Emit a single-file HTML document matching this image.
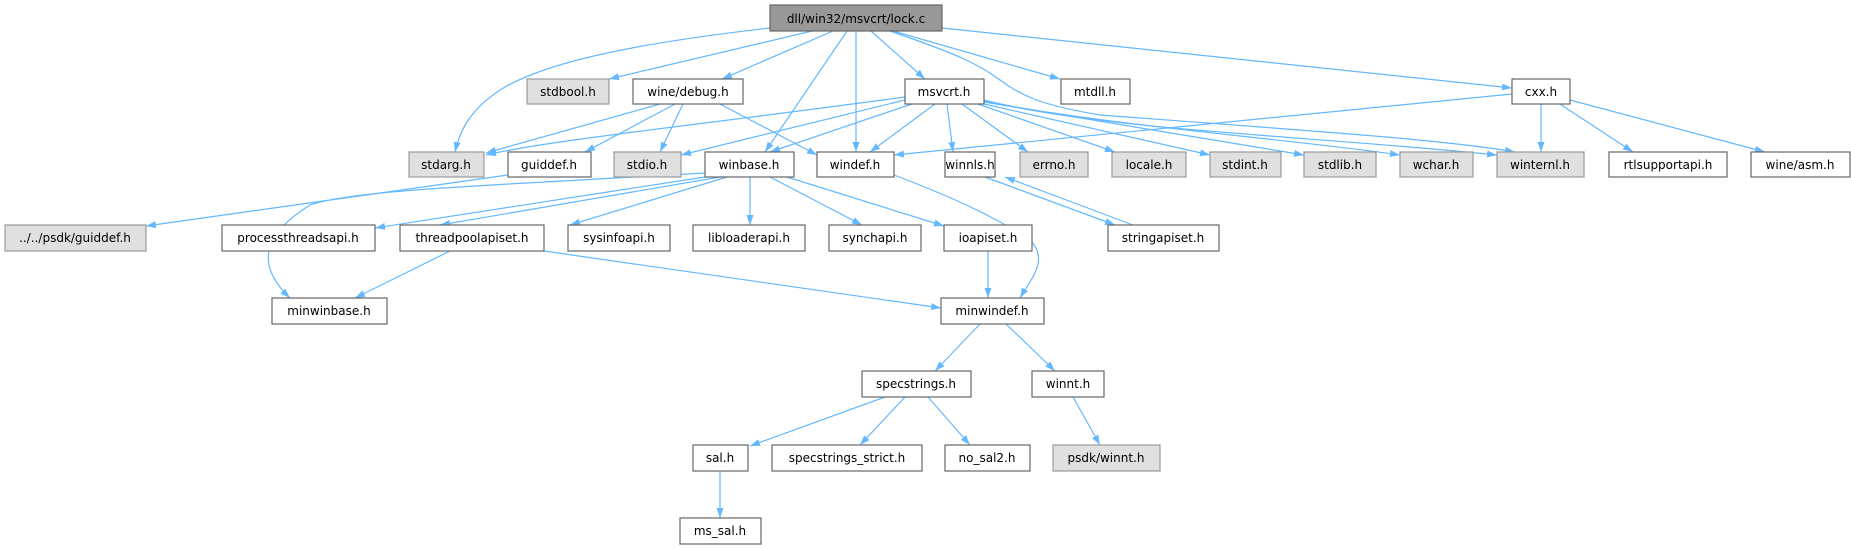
<!DOCTYPE html>
<html><head><meta charset="utf-8"><style>
html,body{margin:0;padding:0;background:#fff;}
svg{display:block;}
text{font-family:"DejaVu Sans","Liberation Sans",sans-serif;font-size:12px;fill:#000;}
</style></head><body>
<svg width="1851" height="549" viewBox="0 0 1851 549" xmlns="http://www.w3.org/2000/svg">
<defs><marker id="a" viewBox="0 0 10 10" refX="10" refY="5" markerWidth="10" markerHeight="10" markerUnits="userSpaceOnUse" orient="auto"><path d="M0,1.5 L10,5 L0,8.5 z" fill="#63b8ff"/></marker></defs>
<g fill="none" stroke="#63b8ff" stroke-width="1.2" marker-end="url(#a)">
<!-- lock.c -->
<path d="M770,28 C620,45 540,65 500,90 C470,110 460,130 455,152"/>
<path d="M812,31 L609,79"/>
<path d="M833,31 L722,79"/>
<path d="M847,31 L765,152"/>
<path d="M856,31 L856,152"/>
<path d="M871,31 L925,79"/>
<path d="M893,31 L1060,79"/>
<path d="M942,28 L1512,88"/>
<path d="M890,31 C960,55 980,65 1000,80 C1020,95 1040,105 1100,115 C1300,130 1450,140 1515,152"/>
<!-- wine/debug -->
<path d="M660,104 L486,153"/>
<path d="M675,104 L585,152"/>
<path d="M683,104 L660,152"/>
<path d="M720,104 L817,155"/>
<!-- msvcrt -->
<path d="M905,97 C700,125 550,140 486,155"/>
<path d="M905,100 L681,155"/>
<path d="M912,104 L770,152"/>
<path d="M935,104 L870,152"/>
<path d="M947,104 L953,152"/>
<path d="M962,104 L1028,152"/>
<path d="M978,104 L1115,152"/>
<path d="M984,104 L1210,155"/>
<path d="M984,102 L1304,155"/>
<path d="M984,101 C1100,125 1300,140 1400,155"/>
<path d="M984,100 C1100,130 1300,135 1497,155"/>
<!-- cxx -->
<path d="M1512,94 L894,155"/>
<path d="M1541,104 L1541,152"/>
<path d="M1560,104 L1633,152"/>
<path d="M1570,100 L1765,152"/>
<!-- guiddef -->
<path d="M508,175 L146,226"/>
<!-- winbase -->
<path d="M705,173 C500,185 350,190 310,205 C270,230 250,260 290,298"/>
<path d="M705,177 L375,228"/>
<path d="M720,177 L440,225"/>
<path d="M727,177 L570,225"/>
<path d="M750,177 L750,225"/>
<path d="M770,177 L862,225"/>
<path d="M787,177 L944,226"/>
<!-- windef -> minwindef -->
<path d="M894,175 C960,200 1000,220 1030,240 C1050,260 1030,280 1020,298"/>
<!-- winnls / stringapiset -->
<path d="M985,177 L1115,225"/>
<path d="M1133,225 L1005,177"/>
<!-- threadpool -->
<path d="M450,251 L355,298"/>
<path d="M544,251 L941,308"/>
<!-- ioapiset -->
<path d="M988,251 L988,298"/>
<!-- minwindef -->
<path d="M980,324 L935,371"/>
<path d="M1006,324 L1055,371"/>
<!-- specstrings -->
<path d="M885,397 L750,446"/>
<path d="M905,397 L860,445"/>
<path d="M928,397 L970,445"/>
<path d="M1073,397 L1100,445"/>
<path d="M720,471 L720,518"/>
</g>
<g stroke-width="1.2">
<rect x="770" y="5" width="172" height="26" fill="#999" stroke="#666"/>
<text x="856" y="23" text-anchor="middle">dll/win32/msvcrt/lock.c</text>
<g fill="#e0e0e0" stroke="#999">
<rect x="527" y="79" width="82" height="25"/>
<rect x="409" y="152" width="75" height="25"/>
<rect x="614" y="152" width="67" height="25"/>
<rect x="5" y="225" width="141" height="26"/>
<rect x="1020" y="152" width="68" height="25"/>
<rect x="1112" y="152" width="74" height="25"/>
<rect x="1210" y="152" width="71" height="25"/>
<rect x="1304" y="152" width="72" height="25"/>
<rect x="1400" y="152" width="73" height="25"/>
<rect x="1497" y="152" width="87" height="25"/>
<rect x="1053" y="445" width="107" height="26"/>
</g>
<g fill="#fff" stroke="#666">
<rect x="633" y="79" width="110" height="25"/>
<rect x="905" y="79" width="79" height="25"/>
<rect x="1061" y="79" width="69" height="25"/>
<rect x="1512" y="79" width="58" height="25"/>
<rect x="508" y="152" width="83" height="25"/>
<rect x="705" y="152" width="89" height="25"/>
<rect x="817" y="152" width="77" height="25"/>
<rect x="945" y="152" width="50" height="25"/>
<rect x="1609" y="152" width="118" height="25"/>
<rect x="1751" y="152" width="99" height="25"/>
<rect x="222" y="225" width="153" height="26"/>
<rect x="400" y="225" width="144" height="26"/>
<rect x="568" y="225" width="102" height="26"/>
<rect x="693" y="225" width="112" height="26"/>
<rect x="829" y="225" width="92" height="26"/>
<rect x="944" y="225" width="88" height="26"/>
<rect x="1108" y="225" width="111" height="26"/>
<rect x="272" y="298" width="115" height="26"/>
<rect x="941" y="298" width="103" height="26"/>
<rect x="862" y="371" width="109" height="26"/>
<rect x="1032" y="371" width="72" height="26"/>
<rect x="693" y="445" width="55" height="26"/>
<rect x="772" y="445" width="150" height="26"/>
<rect x="945" y="445" width="85" height="26"/>
<rect x="680" y="518" width="81" height="26"/>
</g>
</g>
<g text-anchor="middle">
<text x="568" y="96">stdbool.h</text>
<text x="688" y="96">wine/debug.h</text>
<text x="944" y="96">msvcrt.h</text>
<text x="1095" y="96">mtdll.h</text>
<text x="1541" y="96">cxx.h</text>
<text x="446" y="169">stdarg.h</text>
<text x="549" y="169">guiddef.h</text>
<text x="647" y="169">stdio.h</text>
<text x="749" y="169">winbase.h</text>
<text x="855" y="169">windef.h</text>
<text x="970" y="169">winnls.h</text>
<text x="1054" y="169">errno.h</text>
<text x="1149" y="169">locale.h</text>
<text x="1245" y="169">stdint.h</text>
<text x="1340" y="169">stdlib.h</text>
<text x="1436" y="169">wchar.h</text>
<text x="1540" y="169">winternl.h</text>
<text x="1668" y="169">rtlsupportapi.h</text>
<text x="1800" y="169">wine/asm.h</text>
<text x="75" y="242">../../psdk/guiddef.h</text>
<text x="298" y="242">processthreadsapi.h</text>
<text x="472" y="242">threadpoolapiset.h</text>
<text x="619" y="242">sysinfoapi.h</text>
<text x="749" y="242">libloaderapi.h</text>
<text x="875" y="242">synchapi.h</text>
<text x="988" y="242">ioapiset.h</text>
<text x="1163" y="242">stringapiset.h</text>
<text x="329" y="315">minwinbase.h</text>
<text x="992" y="315">minwindef.h</text>
<text x="916" y="388">specstrings.h</text>
<text x="1068" y="388">winnt.h</text>
<text x="720" y="462">sal.h</text>
<text x="847" y="462">specstrings_strict.h</text>
<text x="987" y="462">no_sal2.h</text>
<text x="1106" y="462">psdk/winnt.h</text>
<text x="720" y="535">ms_sal.h</text>
</g>
</svg>
</body></html>
